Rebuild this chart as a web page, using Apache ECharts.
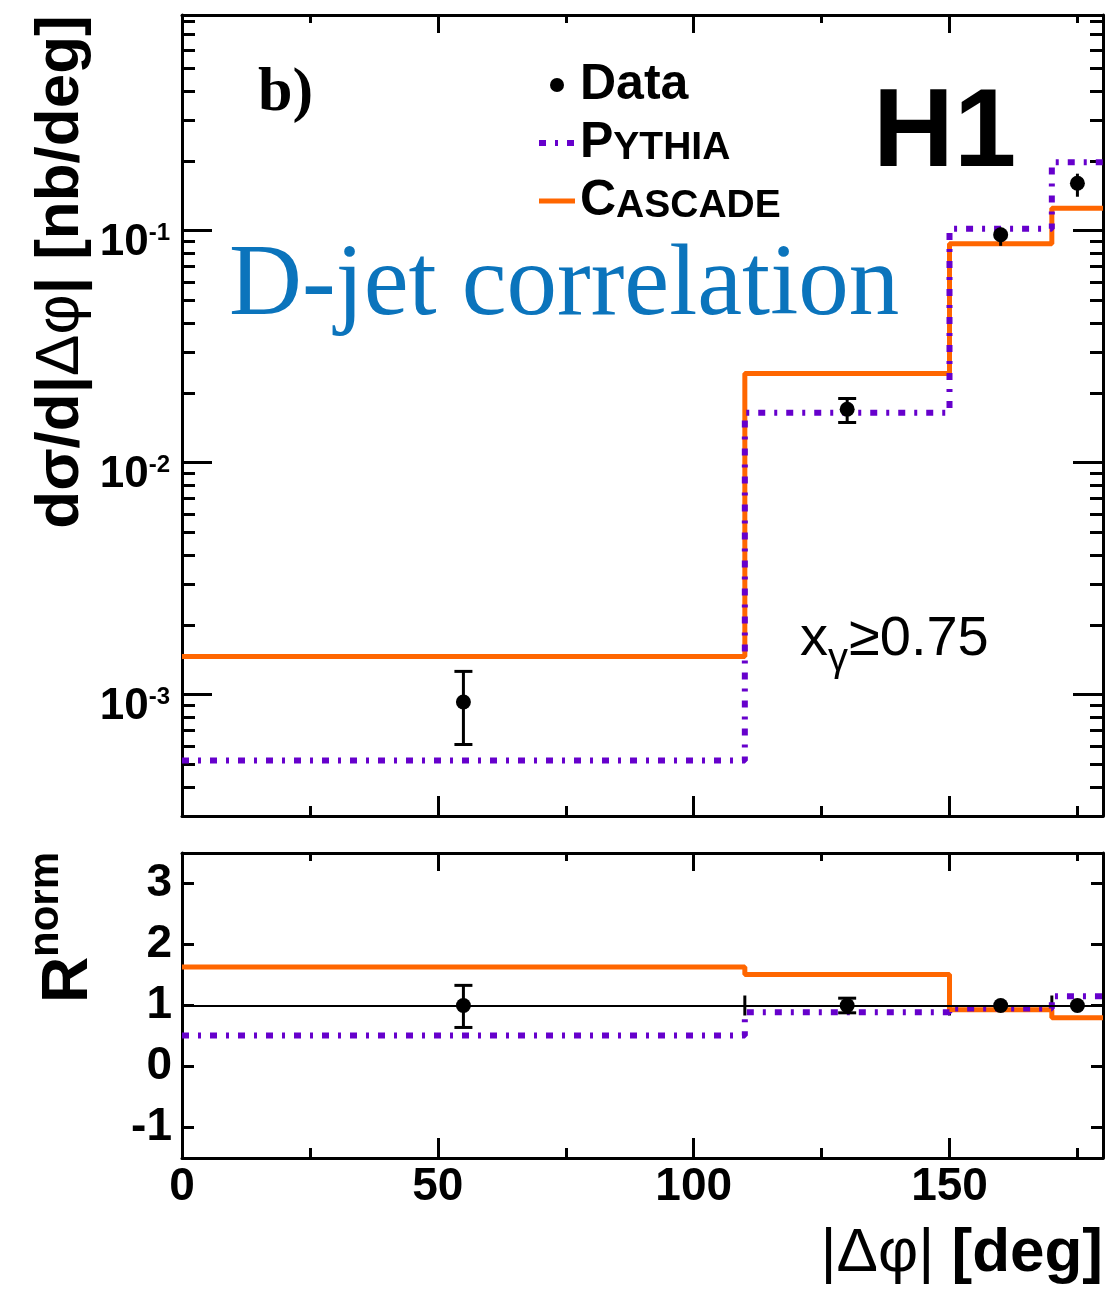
<!DOCTYPE html>
<html>
<head>
<meta charset="utf-8">
<title>D-jet correlation</title>
<script src="https://cdn.jsdelivr.net/npm/echarts@6/dist/echarts.min.js"></script>
<style>
html, body { margin: 0; padding: 0; background: #fff; }
#pic { width: 1107px; height: 1291px; }
</style>
</head>
<body>
<div id="pic"></div>
<script>
// bins in |dphi| [deg]
var binEdges = [0, 110, 150, 170, 180];
var binCenters = [55, 130, 160, 175];

// upper panel, dsigma/d|dphi| [nb/deg]
var dataXsec = [9.3e-4, 0.0170, 0.096, 0.160];
var dataXsecLow = [6.1e-4, 0.0149, 0.086, 0.140];
var dataXsecHigh = [1.26e-3, 0.0189, 0.103, 0.176];
var pythiaXsec = [5.2e-4, 0.0164, 0.102, 0.197];
var cascadeXsec = [1.46e-3, 0.0242, 0.0877, 0.125];

// lower panel, R norm
var ratioRef = 1;
var dataRatio = [1, 1, 1, 1];
var dataRatioLow = [0.64, 0.88, 0.94, 0.94];
var dataRatioHigh = [1.33, 1.12, 1.06, 1.06];
var pythiaRatio = [0.51, 0.89, 0.95, 1.15];
var cascadeRatio = [1.63, 1.51, 0.93, 0.80];

// ticks
var xTicksMajor = [0, 50, 100, 150];
var xTicksMinor = [25, 75, 125, 175];
var logTicksMajor = [1e-3, 1e-2, 1e-1];
var ratioTicks = [-1, 0, 1, 2, 3];

var yLogMin = 3e-4, yLogMax = 0.85;
var logTicksMinor = [];
[1e-4, 1e-3, 1e-2, 1e-1].forEach(function (d) {
    for (var k = 2; k <= 9; k++) {
        var v = +(k * d).toPrecision(3);
        if (v > yLogMin && v < yLogMax) logTicksMinor.push(v);
    }
});

var purple = '#6600cc', orange = '#ff6600';
var sans = '"Liberation Sans", Arial, sans-serif';
var serif = '"Liberation Serif", "Times New Roman", serif';

function stepData(values) {
    return binEdges.map(function (e, i) {
        return [e, values[Math.min(i, values.length - 1)]];
    });
}
function errData(y, lo, hi) {
    return binCenters.map(function (x, i) {
        return [x, y[i], lo[i], hi[i], binEdges[i + 1] - binEdges[i]];
    });
}
function renderErrorBar(params, api) {
    var x = api.value(0);
    var lo = api.coord([x, api.value(2)]);
    var hi = api.coord([x, api.value(3)]);
    var st = { stroke: '#000', lineWidth: 3 };
    var kids = [{ type: 'line', shape: { x1: lo[0], y1: lo[1], x2: hi[0], y2: hi[1] }, style: st }];
    // only the wide bins get end caps
    if (api.value(4) >= 30) {
        kids.push({ type: 'line', shape: { x1: lo[0] - 9, y1: lo[1], x2: lo[0] + 9, y2: lo[1] }, style: st });
        kids.push({ type: 'line', shape: { x1: hi[0] - 9, y1: hi[1], x2: hi[0] + 9, y2: hi[1] }, style: st });
    }
    return { type: 'group', children: kids };
}
function renderEdgeTick(params, api) {
    var p = api.coord([api.value(0), api.value(1)]);
    return { type: 'line', shape: { x1: p[0], y1: p[1] - 10, x2: p[0], y2: p[1] + 10 },
             style: { stroke: '#000', lineWidth: 3 } };
}

function frameLine(show) {
    return { show: show, onZero: false, lineStyle: { color: '#000', width: 3 } };
}
function ticks(values, len) {
    return { show: true, inside: true, length: len, customValues: values,
             lineStyle: { color: '#000', width: 3 } };
}

var xLabel = {
    show: true, customValues: xTicksMajor, margin: 6,
    fontSize: 46, fontWeight: 'bold', fontFamily: sans, color: '#000'
};
function xAxesFor(g, labels) {
    var base = { type: 'value', gridIndex: g, min: 0, max: 180, splitLine: { show: false } };
    return [
        Object.assign({}, base, { position: 'bottom', axisLine: frameLine(true), axisTick: ticks(xTicksMajor, 20),
                                  axisLabel: labels ? xLabel : { show: false } }),
        Object.assign({}, base, { position: 'bottom', axisLine: frameLine(false), axisTick: ticks(xTicksMinor, 10), axisLabel: { show: false } }),
        Object.assign({}, base, { position: 'top', axisLine: frameLine(true), axisTick: ticks(xTicksMajor, 18), axisLabel: { show: false } }),
        Object.assign({}, base, { position: 'top', axisLine: frameLine(false), axisTick: ticks(xTicksMinor, 8), axisLabel: { show: false } })
    ];
}

var logBase = { type: 'log', logBase: 10, gridIndex: 0, min: yLogMin, max: yLogMax, splitLine: { show: false } };
var ratioBase = { type: 'value', gridIndex: 1, min: -1.5, max: 3.5, splitLine: { show: false } };

var yAxes = [
    Object.assign({}, logBase, {
        position: 'left', axisLine: frameLine(true), axisTick: ticks(logTicksMajor, 30),
        axisLabel: {
            show: true, customValues: logTicksMajor, margin: 12, padding: [25, 0, 0, 0],
            formatter: function (v) { return '{b|10}{s|' + Math.round(Math.log10(v)) + '}'; },
            rich: {
                b: { fontSize: 44, fontWeight: 'bold', fontFamily: sans, color: '#000', lineHeight: 44 },
                s: { fontSize: 24, fontWeight: 'bold', fontFamily: sans, color: '#000', lineHeight: 24, verticalAlign: 'top' }
            }
        }
    }),
    Object.assign({}, logBase, { position: 'left', axisLine: frameLine(false), axisTick: ticks(logTicksMinor, 13), axisLabel: { show: false } }),
    Object.assign({}, logBase, { position: 'right', axisLine: frameLine(true), axisTick: ticks(logTicksMajor, 30), axisLabel: { show: false } }),
    Object.assign({}, logBase, { position: 'right', axisLine: frameLine(false), axisTick: ticks(logTicksMinor, 13), axisLabel: { show: false } }),
    Object.assign({}, ratioBase, {
        position: 'left', axisLine: frameLine(true), axisTick: ticks(ratioTicks, 12),
        axisLabel: { show: true, customValues: ratioTicks, margin: 10, padding: [14, 0, 0, 0],
                     fontSize: 46, fontWeight: 'bold', fontFamily: sans, color: '#000' }
    }),
    Object.assign({}, ratioBase, { position: 'right', axisLine: frameLine(true), axisTick: ticks(ratioTicks, 12), axisLabel: { show: false } })
];

var legendText = {
    Data: '{big|Data}',
    Pythia: '{big|P}{small|YTHIA}',
    Cascade: '{big|C}{small|ASCADE}'
};

var myChart = echarts.init(document.getElementById('pic'));
var option = {
    animation: false,
    backgroundColor: '#fff',
    grid: [
        { left: 182, top: 15, width: 921, height: 801, show: false },
        { left: 182, top: 853, width: 921, height: 305, show: false }
    ],
    xAxis: xAxesFor(0, false).concat(xAxesFor(1, true)),
    yAxis: yAxes,
    legend: {
        orient: 'vertical', left: 536, top: 60, padding: 0, itemWidth: 36, itemHeight: 14, itemGap: 8,
        selectedMode: false,
        data: [
            { name: 'Data', icon: 'circle', itemStyle: { color: '#000', opacity: 1 } },
            { name: 'Pythia', lineStyle: { width: 6 }, itemStyle: { opacity: 0 } },
            { name: 'Cascade', lineStyle: { width: 5 }, itemStyle: { opacity: 0 } }
        ],
        formatter: function (name) { return legendText[name]; },
        textStyle: {
            rich: {
                big: { fontSize: 50, fontWeight: 'bold', fontFamily: sans, color: '#000', lineHeight: 50, verticalAlign: 'bottom' },
                small: { fontSize: 39, fontWeight: 'bold', fontFamily: sans, color: '#000', lineHeight: 42, verticalAlign: 'bottom' }
            }
        }
    },
    series: [
        // upper panel
        { name: 'Cascade', type: 'line', step: 'end', xAxisIndex: 0, yAxisIndex: 0, symbol: 'none', z: 2,
          data: stepData(cascadeXsec), lineStyle: { color: orange, width: 5 }, itemStyle: { color: orange } },
        { name: 'Pythia', type: 'line', step: 'end', xAxisIndex: 0, yAxisIndex: 0, symbol: 'none', z: 3,
          data: stepData(pythiaXsec), lineStyle: { color: purple, width: 6, type: [7, 9, 3, 9], cap: 'butt' }, itemStyle: { color: purple } },
        { name: 'Data', type: 'scatter', xAxisIndex: 0, yAxisIndex: 0, symbol: 'circle', symbolSize: 15, z: 6,
          data: binCenters.map(function (x, i) { return [x, dataXsec[i]]; }), itemStyle: { color: '#000', opacity: 1 } },
        { name: 'Data errors', type: 'custom', xAxisIndex: 0, yAxisIndex: 0, z: 5,
          renderItem: renderErrorBar, data: errData(dataXsec, dataXsecLow, dataXsecHigh) },
        // lower panel
        { name: 'Reference', type: 'custom', xAxisIndex: 4, yAxisIndex: 4, z: 1,
          renderItem: renderEdgeTick,
          data: binEdges.slice(1, -1).map(function (e) { return [e, ratioRef]; }),
          markLine: { silent: true, symbol: 'none', label: { show: false },
                      lineStyle: { color: '#000', width: 2, type: 'solid' }, data: [{ yAxis: ratioRef }] } },
        { name: 'Cascade', type: 'line', step: 'end', xAxisIndex: 4, yAxisIndex: 4, symbol: 'none', z: 2,
          data: stepData(cascadeRatio), lineStyle: { color: orange, width: 5 }, itemStyle: { color: orange } },
        { name: 'Pythia', type: 'line', step: 'end', xAxisIndex: 4, yAxisIndex: 4, symbol: 'none', z: 3,
          data: stepData(pythiaRatio), lineStyle: { color: purple, width: 6, type: [7, 9, 3, 9], cap: 'butt' }, itemStyle: { color: purple } },
        { name: 'Data', type: 'scatter', xAxisIndex: 4, yAxisIndex: 4, symbol: 'circle', symbolSize: 15, z: 6,
          data: binCenters.map(function (x, i) { return [x, dataRatio[i]]; }), itemStyle: { color: '#000', opacity: 1 } },
        { name: 'Data errors', type: 'custom', xAxisIndex: 4, yAxisIndex: 4, z: 5,
          renderItem: renderErrorBar, data: errData(dataRatio, dataRatioLow, dataRatioHigh) }
    ],
    graphic: [
        { type: 'text', x: 258, y: 94, style: { text: 'b)', font: 'bold 62px ' + serif, fill: '#000', align: 'left', verticalAlign: 'middle' } },
        { type: 'text', x: 873, y: 135, style: { text: 'H1', font: 'bold 112px ' + sans, fill: '#000', align: 'left', verticalAlign: 'middle' } },
        { type: 'text', x: 229, y: 287, z: 10, style: { text: 'D-jet correlation', font: '101px ' + serif, fill: '#0b74bc', align: 'left', verticalAlign: 'middle' } },
        { type: 'text', x: 800, y: 640, style: { text: 'x', font: '56px ' + sans, fill: '#000', align: 'left', verticalAlign: 'middle' } },
        { type: 'text', x: 828, y: 660, style: { text: 'γ', font: '40px ' + sans, fill: '#000', align: 'left', verticalAlign: 'middle' } },
        { type: 'text', x: 849, y: 640, style: { text: '≥0.75', font: '56px ' + sans, fill: '#000', align: 'left', verticalAlign: 'middle' } },
        // axis titles
        { type: 'text', x: 61, y: 272, rotation: Math.PI / 2,
          style: { text: '{b|dσ/d|}{n|Δφ}{b|| [nb/deg]}', align: 'center', verticalAlign: 'middle',
                   rich: { b: { font: 'bold 62px ' + sans, fill: '#000' }, n: { font: '62px ' + sans, fill: '#000' } } } },
        { type: 'text', x: 69, y: 980, rotation: Math.PI / 2,
          style: { text: 'R', font: 'bold 64px ' + sans, fill: '#000', align: 'center', verticalAlign: 'middle' } },
        { type: 'text', x: 46, y: 957, rotation: Math.PI / 2,
          style: { text: 'norm', font: 'bold 42px ' + sans, fill: '#000', align: 'left', verticalAlign: 'middle' } },
        { type: 'text', x: 1103, y: 1254,
          style: { text: '{n||Δφ|}{b| [deg]}', align: 'right', verticalAlign: 'middle',
                   rich: { b: { font: 'bold 62px ' + sans, fill: '#000' }, n: { font: '62px ' + sans, fill: '#000' } } } }
    ]
};
myChart.setOption(option);
</script>
</body>
</html>
